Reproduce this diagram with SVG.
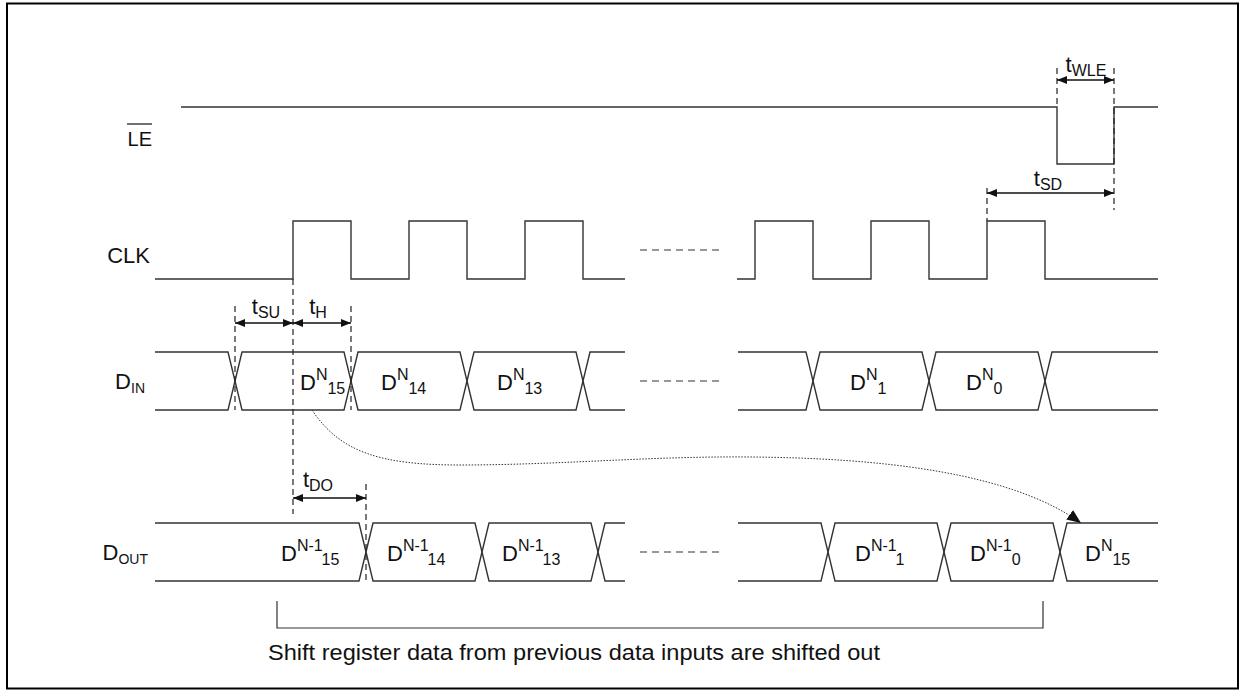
<svg xmlns="http://www.w3.org/2000/svg" width="1246" height="692" viewBox="0 0 1246 692">
<defs>
<style>
.wave{fill:none;stroke:#333;stroke-width:1.4}
.dash{fill:none;stroke:#222;stroke-width:1.2;stroke-dasharray:6 4}
.sep{fill:none;stroke:#333;stroke-width:1.2;stroke-dasharray:7 5}
.dim{fill:none;stroke:#111;stroke-width:1.4;marker-start:url(#ah);marker-end:url(#ah)}
.curve{fill:none;stroke:#333;stroke-width:1;stroke-dasharray:1.5 1.5}
text{font-family:"Liberation Sans",Arial,sans-serif;font-size:22px;fill:#111}
.s{font-size:16px}
.s2{font-size:14px}
.lbl{text-anchor:end}
.mid{text-anchor:middle}
</style>
<marker id="ah" viewBox="0 0 10 8" refX="10" refY="4" markerWidth="10" markerHeight="8" markerUnits="userSpaceOnUse" orient="auto-start-reverse"><path d="M0,0 L10,4 L0,8 z" fill="#111"/></marker>
<marker id="ah2" viewBox="0 0 12 10" refX="12" refY="5" markerWidth="14" markerHeight="12" markerUnits="userSpaceOnUse" orient="auto"><path d="M0,0 L12,5 L0,10 z" fill="#111"/></marker>
</defs>
<rect x="7" y="3.5" width="1231" height="685" fill="#fff" stroke="#000" stroke-width="2"/>

<g id="sig-le">
<text class="lbl" x="152" y="146" style="font-size:20px">LE</text>
<line x1="127" y1="124" x2="152" y2="124" stroke="#111" stroke-width="1.2"/>
<path class="wave" d="M181 107 H1057 V164 H1114 V107 H1158"/>
</g>

<g id="sig-clk">
<text class="lbl" x="150" y="263">CLK</text>
<path class="wave" d="M155 279 H293 V221 H351 V279 H409 V221 H467 V279 H525 V221 H583 V279 H625"/>
<path class="wave" d="M737 279 H755 V221 H813 V279 H871 V221 H929 V279 H987 V221 H1045 V279 H1158"/>
<line class="sep" x1="640" y1="250" x2="722" y2="250"/>
</g>

<g id="sig-din">
<text class="lbl" x="145" y="389">D<tspan class="s2" dy="4">IN</tspan></text>
<path class="wave" d="M155 352 H228 L235 381 L228 410 H155"/>
<path class="wave" d="M235 381 L242 352 H344 L351 381 L344 410 H242 Z"/>
<path class="wave" d="M351 381 L358 352 H460 L467 381 L460 410 H358 Z"/>
<path class="wave" d="M467 381 L474 352 H576 L583 381 L576 410 H474 Z"/>
<path class="wave" d="M625 352 H590 L583 381 L590 410 H625"/>
<path class="wave" d="M738 352 H806 L813 381 L806 410 H738"/>
<path class="wave" d="M813 381 L820 352 H922 L929 381 L922 410 H820 Z"/>
<path class="wave" d="M929 381 L936 352 H1038 L1045 381 L1038 410 H936 Z"/>
<path class="wave" d="M1158 352 H1052 L1045 381 L1052 410 H1158"/>
<line class="sep" x1="640" y1="381" x2="722" y2="381"/>
<text x="300" y="390">D<tspan class="s" dy="-10">N</tspan><tspan class="s" dy="14">15</tspan></text>
<text x="381" y="390">D<tspan class="s" dy="-10">N</tspan><tspan class="s" dy="14">14</tspan></text>
<text x="497" y="390">D<tspan class="s" dy="-10">N</tspan><tspan class="s" dy="14">13</tspan></text>
<text x="850" y="390">D<tspan class="s" dy="-10">N</tspan><tspan class="s" dy="14">1</tspan></text>
<text x="966" y="390">D<tspan class="s" dy="-10">N</tspan><tspan class="s" dy="14">0</tspan></text>
</g>

<g id="sig-dout">
<text class="lbl" x="148" y="560">D<tspan class="s2" dy="4">OUT</tspan></text>
<path class="wave" d="M155 523 H359 L366 552 L359 581 H155"/>
<path class="wave" d="M366 552 L373 523 H475 L482 552 L475 581 H373 Z"/>
<path class="wave" d="M482 552 L489 523 H591 L598 552 L591 581 H489 Z"/>
<path class="wave" d="M625 523 H605 L598 552 L605 581 H625"/>
<path class="wave" d="M738 523 H821 L828 552 L821 581 H738"/>
<path class="wave" d="M828 552 L835 523 H937 L944 552 L937 581 H835 Z"/>
<path class="wave" d="M944 552 L951 523 H1053 L1060 552 L1053 581 H951 Z"/>
<path class="wave" d="M1158 523 H1067 L1060 552 L1067 581 H1158"/>
<line class="sep" x1="640" y1="552" x2="722" y2="552"/>
<text x="281" y="561">D<tspan class="s" dy="-10">N-1</tspan><tspan class="s" dy="14">15</tspan></text>
<text x="387" y="561">D<tspan class="s" dy="-10">N-1</tspan><tspan class="s" dy="14">14</tspan></text>
<text x="502" y="561">D<tspan class="s" dy="-10">N-1</tspan><tspan class="s" dy="14">13</tspan></text>
<text x="855" y="561">D<tspan class="s" dy="-10">N-1</tspan><tspan class="s" dy="14">1</tspan></text>
<text x="970" y="561">D<tspan class="s" dy="-10">N-1</tspan><tspan class="s" dy="14">0</tspan></text>
<text x="1085" y="561">D<tspan class="s" dy="-10">N</tspan><tspan class="s" dy="14">15</tspan></text>
</g>

<g id="connectors">
<line class="dash" x1="1057" y1="68" x2="1057" y2="107"/>
<line class="dash" x1="1114" y1="68" x2="1114" y2="210"/>
<line class="dash" x1="987" y1="188" x2="987" y2="221"/>
<line class="dash" x1="235" y1="306" x2="235" y2="410"/>
<line class="dash" x1="293" y1="279" x2="293" y2="514"/>
<line class="dash" x1="351" y1="306" x2="351" y2="410"/>
<line class="dash" x1="366" y1="484" x2="366" y2="581"/>
<line class="dim" x1="1057" y1="80" x2="1114" y2="80"/>
<line class="dim" x1="987" y1="193" x2="1114" y2="193"/>
<line class="dim" x1="235" y1="323" x2="293" y2="323"/>
<line class="dim" x1="293" y1="323" x2="351" y2="323"/>
<line class="dim" x1="293" y1="498" x2="366" y2="498"/>
<path class="curve" marker-end="url(#ah2)" d="M312 410 C340 452 380 465 460 465 C560 465 650 456 750 457 C880 458 1010 472 1081 523"/>
<path fill="none" stroke="#333" stroke-width="1.2" d="M277 601 V628 H1043 V601"/>
</g>

<g id="labels">
<text class="mid" x="1086" y="72">t<tspan class="s" dy="4">WLE</tspan></text>
<text class="mid" x="1048" y="186">t<tspan class="s" dy="4">SD</tspan></text>
<text class="mid" x="266" y="314">t<tspan class="s" dy="4">SU</tspan></text>
<text class="mid" x="318" y="314">t<tspan class="s" dy="4">H</tspan></text>
<text class="mid" x="318" y="487">t<tspan class="s" dy="4">DO</tspan></text>
<text x="268" y="660" textLength="612" lengthAdjust="spacingAndGlyphs">Shift register data from previous data inputs are shifted out</text>
</g>
</svg>
